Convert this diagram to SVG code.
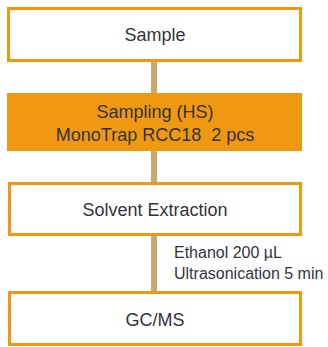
<svg xmlns="http://www.w3.org/2000/svg" width="328" height="347" viewBox="0 0 328 347">
<style>
.box{fill:#ffffff;stroke:#f0980f;stroke-width:3}
.fbox{fill:#f0980f;stroke:#f0980f;stroke-width:3}
.t{font-family:"Liberation Sans",Arial,sans-serif;font-size:18px;fill:#333338;text-anchor:middle}
.s{font-family:"Liberation Sans",Arial,sans-serif;font-size:16px;fill:#333340}
.c{fill:#c9aa6c}
</style>
<rect width="328" height="347" fill="#ffffff"/>
<g id="connectors">
<rect class="c" x="151" y="62" width="6" height="32"/>
<rect class="c" x="151" y="150" width="6" height="33"/>
<rect class="c" x="151" y="235" width="6" height="57"/>
<text class="s" x="174" y="258">Ethanol 200 µL</text>
<text class="s" x="174" y="279">Ultrasonication 5 min</text>
</g>
<g id="sample">
<rect class="box" x="8.5" y="8.5" width="292" height="52"/>
<text class="t" x="155" y="41">Sample</text>
</g>
<g id="sampling">
<rect class="fbox" x="8.5" y="94.5" width="292" height="55"/>
<text class="t" x="155" y="118">Sampling (HS)</text>
<text class="t" x="155" y="140.5" xml:space="preserve">MonoTrap RCC18  2 pcs</text>
</g>
<g id="extraction">
<rect class="box" x="9.5" y="183.5" width="291" height="51"/>
<text class="t" x="155" y="216">Solvent Extraction</text>
</g>
<g id="gcms">
<rect class="box" x="9.5" y="292.5" width="291" height="52"/>
<text class="t" x="155" y="326">GC/MS</text>
</g>
</svg>
